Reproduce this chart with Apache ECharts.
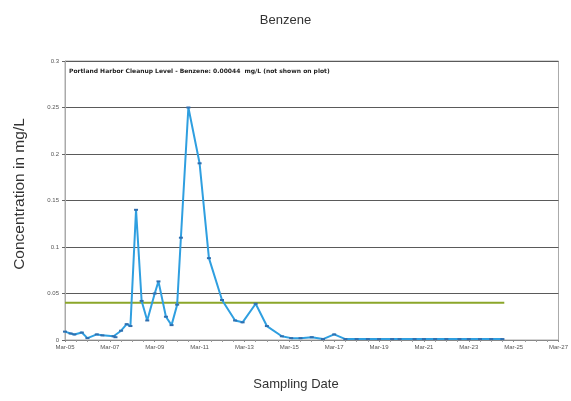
<!DOCTYPE html>
<html>
<head>
<meta charset="utf-8">
<script src="https://cdn.jsdelivr.net/npm/echarts@6/dist/echarts.min.js"></script>
<style>
  html, body { margin: 0; padding: 0; background: #fff; }
  #chart { width: 571px; height: 401px; }
</style>
</head>
<body>
<div id="chart"></div>
<script>
// Benzene sampling results (mg/L)
var sampleDates = [
  '2005-03', '2005-06', '2005-08', '2005-12', '2006-03', '2006-08', '2006-11',
  '2007-05', '2007-06', '2007-09', '2007-12', '2008-02', '2008-05', '2008-08',
  '2008-11', '2009-03', '2009-05', '2009-09', '2009-12', '2010-03', '2010-05',
  '2010-09', '2011-03', '2011-08', '2012-03', '2012-10', '2013-02', '2013-09',
  '2014-03', '2014-11', '2015-04', '2015-09', '2016-03', '2016-09', '2017-03',
  '2017-09', '2018-03', '2018-09', '2019-03', '2019-10', '2020-02', '2020-10',
  '2021-03', '2021-09', '2022-03', '2022-10', '2023-03', '2023-09', '2024-03',
  '2024-09'
];
var benzene = [
  0.009, 0.007, 0.006, 0.008, 0.002, 0.006, 0.005,
  0.004, 0.003, 0.010, 0.017, 0.015, 0.140, 0.042,
  0.021, 0.050, 0.063, 0.025, 0.016, 0.038, 0.110,
  0.250, 0.190, 0.088, 0.043, 0.021, 0.019, 0.039,
  0.015, 0.004, 0.002, 0.002, 0.003, 0.001, 0.006,
  0.001, 0.001, 0.001, 0.001, 0.001, 0.001, 0.001,
  0.001, 0.001, 0.001, 0.001, 0.001, 0.001, 0.001,
  0.001
];
// Reference level line
var refDates = ['2005-03', '2024-10'];
var refLevel = [0.04, 0.04];

var yTicks = ['0', '0.05', '0.1', '0.15', '0.2', '0.25', '0.3'];
var noteText = 'Portland Harbor Cleanup Level - Benzene: 0.00044  mg/L (not shown on plot)';

// years since March 2005
function toYears(s) {
  var p = s.split('-');
  return (+p[0] - 2005) + (+p[1] - 3) / 12;
}
function pairs(dates, vals) {
  return dates.map(function (d, i) { return [toYears(d), vals[i]]; });
}

var chart = echarts.init(document.getElementById('chart'));
chart.setOption({
  animation: false,
  title: {
    text: 'Benzene',
    left: 'center',
    top: 9,
    textStyle: { fontFamily: 'Liberation Sans, Arial', fontSize: 13, fontWeight: 'normal', color: '#333' }
  },
  grid: { left: 65, right: 11, top: 61, bottom: 61, show: true, borderColor: '#aaa', borderWidth: 1 },
  xAxis: {
    type: 'value',
    min: 0, max: 22, interval: 2,
    axisLine: { lineStyle: { color: '#888', width: 1 } },
    axisTick: { show: true, length: 2, lineStyle: { color: '#888' } },
    minorTick: { show: true, splitNumber: 4, length: 2, lineStyle: { color: '#999' } },
    splitLine: { show: false },
    axisLabel: {
      fontFamily: 'Liberation Sans, Arial', fontSize: 6, color: '#555', margin: 4,
      formatter: function (v) { var y = 5 + v; return 'Mar-' + (y < 10 ? '0' + y : y); }
    }
  },
  yAxis: {
    type: 'value',
    min: 0, max: 0.3, interval: 0.05,
    axisLine: { show: true, lineStyle: { color: '#aaa' } },
    axisTick: { show: true, length: 3, lineStyle: { color: '#666' } },
    splitLine: { lineStyle: { color: '#5a5a5a', width: 1.2 } },
    axisLabel: {
      fontFamily: 'Liberation Sans, Arial', fontSize: 6, color: '#555', margin: 6,
      formatter: function (v) { return yTicks[Math.round(v / 0.05)]; }
    }
  },
  graphic: [
    {
      type: 'text',
      left: 69, top: 68,
      style: { text: noteText, font: 'bold 6px "DejaVu Sans", sans-serif', fill: '#222' }
    },
    {
      type: 'text',
      x: 296, y: 384,
      style: { text: 'Sampling Date', font: '13px "Liberation Sans", Arial', fill: '#333', align: 'center', verticalAlign: 'middle' }
    },
    {
      type: 'text',
      x: 20, y: 194,
      rotation: Math.PI / 2,
      style: { text: 'Concentration in mg/L', font: '15.5px "Liberation Sans", Arial', fill: '#333', align: 'center', verticalAlign: 'middle' }
    }
  ],
  series: [
    {
      type: 'line',
      data: pairs(refDates, refLevel),
      symbol: 'none',
      lineStyle: { color: '#8ba62a', width: 2 },
      z: 2
    },
    {
      type: 'line',
      data: pairs(sampleDates, benzene),
      symbol: 'rect',
      symbolSize: [4, 2],
      itemStyle: { color: '#2f6fb0' },
      lineStyle: { color: '#2f9fe0', width: 2 },
      z: 3
    }
  ]
});
</script>
</body>
</html>
